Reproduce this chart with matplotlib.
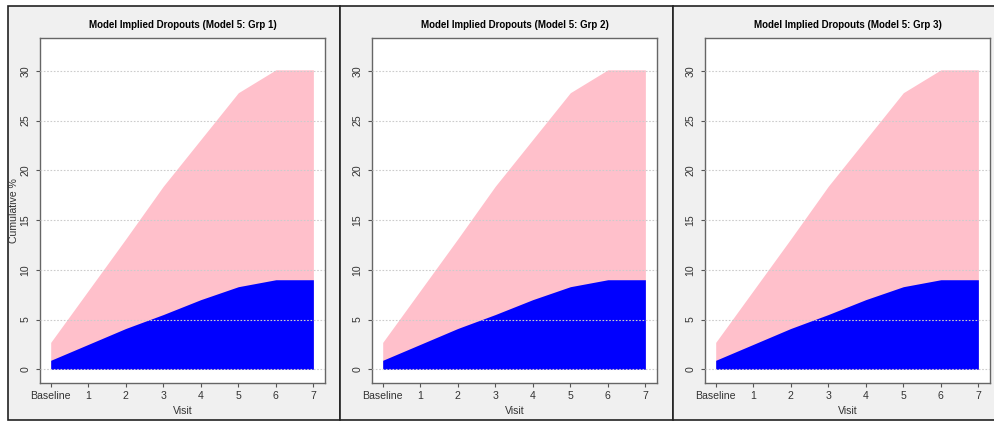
import numpy as np
import matplotlib
matplotlib.use("Agg")
import matplotlib.pyplot as plt
from matplotlib.patches import Rectangle

# values (same in all three groups)
visits = ["Baseline", "1", "2", "3", "4", "5", "6", "7"]
groups = ["Grp 1", "Grp 2", "Grp 3"]
total_pct = [2.7, 7.9, 13.1, 18.4, 23.1, 27.8, 30.1, 30.1]   # pink, all dropouts
model_pct = [0.9, 2.5, 4.1, 5.5, 7.0, 8.3, 9.0, 9.0]       # blue
yticks = [0, 5, 10, 15, 20, 25, 30]

plt.rcParams['font.family'] = ['Liberation Sans', 'DejaVu Sans']

W, H = 995, 422
fig = plt.figure(figsize=(W / 100, H / 100), dpi=100)
fig.patch.set_facecolor("white")

panel_left = [8, 340, 673]
panel_right = [340, 673, 1000]
x = np.arange(len(visits))

for i, grp in enumerate(groups):
    # grey panel with dark border, kept behind the axes
    pl, pr = panel_left[i], panel_right[i]
    fig.patches.append(Rectangle((pl / W, (H - 420) / H), (pr - pl) / W, (420 - 6) / H,
                                 transform=fig.transFigure, facecolor="#f0f0f0",
                                 edgecolor="#222222", lw=1.2, zorder=-5))

    left = pl + 32
    ax = fig.add_axes([left / W, (H - 383) / H, 285 / W, (383 - 38) / H])
    ax.set_facecolor("white")
    ax.fill_between(x, 0, total_pct, color="pink", lw=0, zorder=1)
    ax.fill_between(x, 0, model_pct, color="blue", lw=0, zorder=2)
    for yv in yticks:
        ax.axhline(yv, color="#cccccc", ls=(0, (1.5, 1.5)), lw=0.8, zorder=3)

    ax.set_xlim(-0.285, 7.31)
    ax.set_ylim(-1.38, 33.3)
    ax.set_xticks(x)
    ax.set_xticklabels(visits)
    ax.set_yticks(yticks)
    ax.set_yticklabels([str(v) for v in yticks], rotation=90, va="center")
    ax.tick_params(labelsize=7.6, length=3, width=0.8, color="#555555",
                   labelcolor="#333333", pad=3)
    ax.tick_params(axis="y", pad=4)
    for s in ax.spines.values():
        s.set_color("#666666")
        s.set_linewidth(1.0)

    ax.set_title("Model Implied Dropouts (Model 5: %s)" % grp, fontsize=7,
                 fontweight="bold", pad=7)
    ax.set_xlabel("Visit", fontsize=7.6, labelpad=3, color="#333333")
    if i == 0:
        ax.set_ylabel("Cumulative %", fontsize=7.6, color="#333333")
        ax.yaxis.set_label_coords(-0.075, 0.5)

fig.savefig("out.png", dpi=100, facecolor=fig.get_facecolor())
